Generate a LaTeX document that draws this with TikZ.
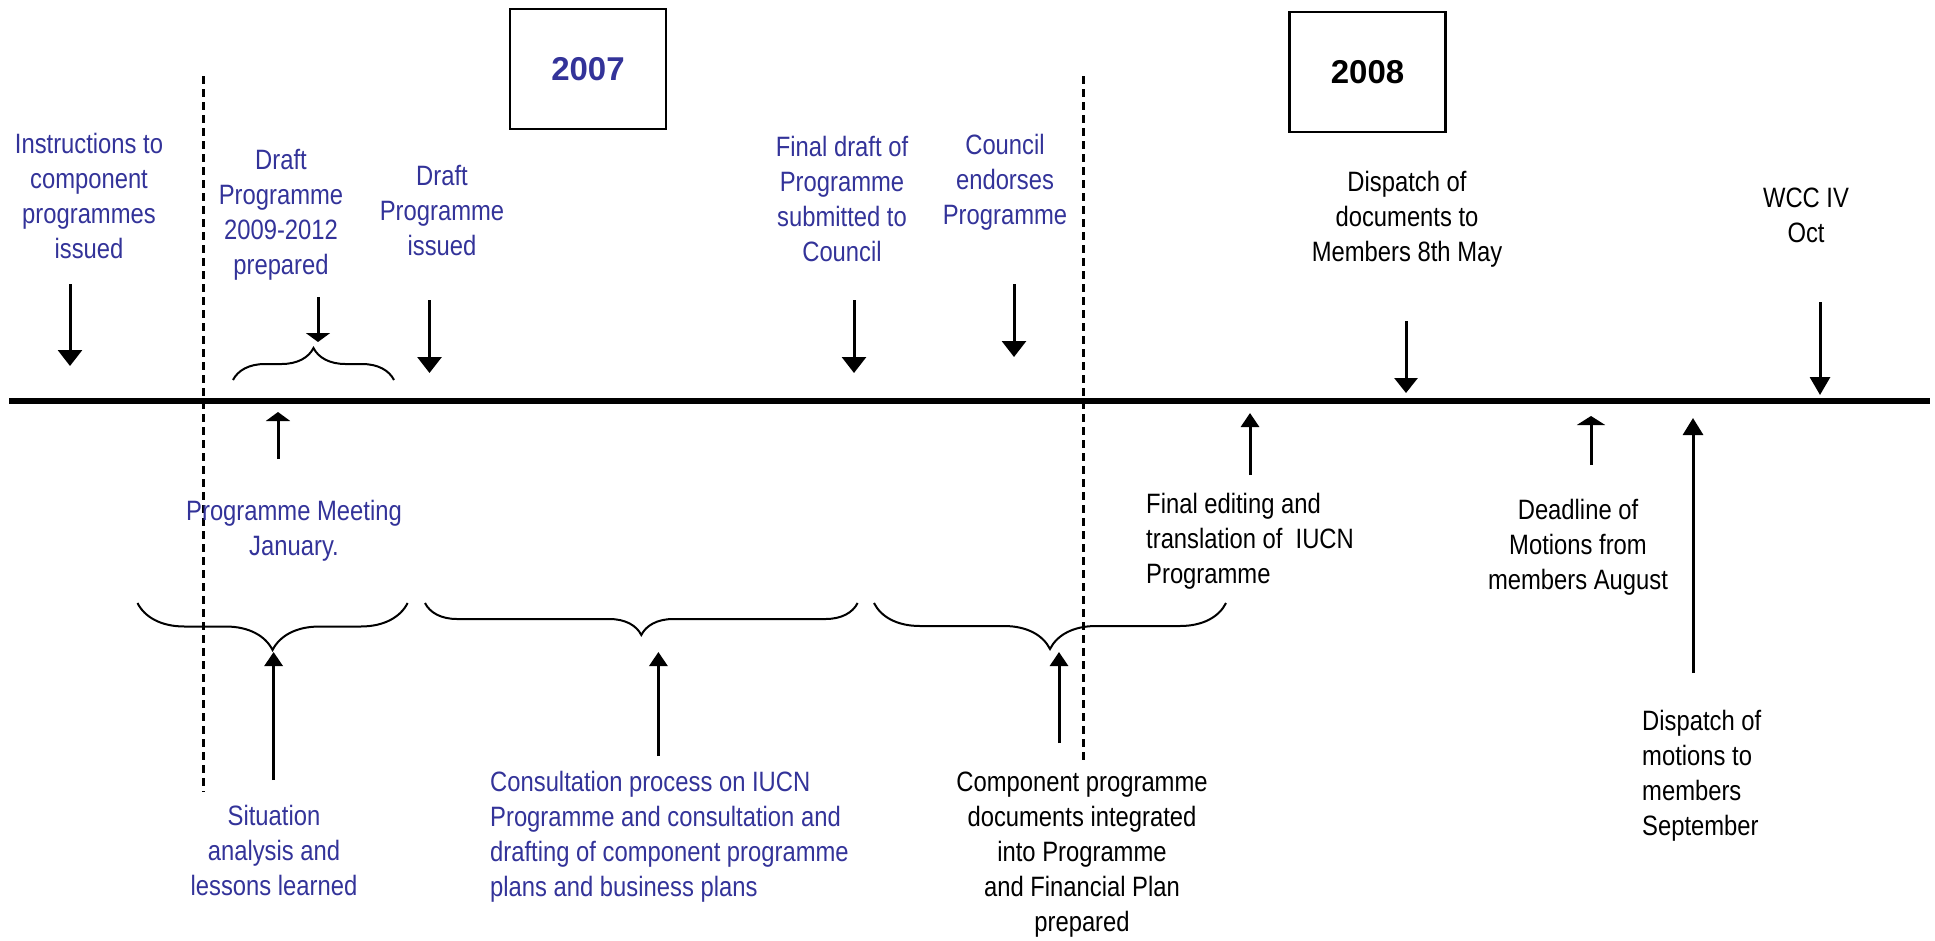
\documentclass[tikz,border=0pt]{standalone}
\usepackage{fontspec}
\setmainfont{Liberation Sans}
\newfontfamily\narrowfont[FakeStretch=0.85]{Liberation Sans}
\usetikzlibrary{arrows.meta,decorations.pathreplacing}
\definecolor{iucnblue}{RGB}{51,51,153}
\begin{document}
\begin{tikzpicture}[x=1pt,y=-1pt,
  lbl/.style={font=\narrowfont\fontsize{28}{35}\selectfont, inner sep=0pt, align=center},
  lblblue/.style={lbl, text=iucnblue},
  yearbox/.style={draw, line width=2.5pt, minimum width=156pt, minimum height=120pt, inner sep=0pt,
    font=\bfseries\fontsize{33}{38}\selectfont},
  arr/.style={line width=3pt, -{Triangle[width=24pt,length=16pt]}},
  arrflat/.style={line width=3pt, -{Triangle[width=24pt,length=9pt]}},
  arrsmall/.style={line width=3pt, -{Triangle[width=18pt,length=14pt]}},
  brc/.style={decorate, line width=2pt},
  sep/.style={line width=3pt, dash pattern=on 8pt off 5pt},
  tline/.style={line width=6pt}
]
\useasboundingbox (0,0) rectangle (1935,940);

% timeline
\coordinate (tl0) at (9,401);
\coordinate (tl1) at (1930,401);
\draw[tline] (tl0) -- (tl1);

% year separators
\coordinate (d1t) at (203,76);
\coordinate (d1b) at (203,792);
\coordinate (d2t) at (1083,76);
\coordinate (d2b) at (1083,760);
\draw[sep] (d1t) -- (d1b);
\draw[sep] (d2t) -- (d2b);

% year boxes
\node[yearbox, text=iucnblue] (y2007) at (588,69) {2007};
\node[yearbox] (y2008) at (1367.5,72) {2008};

% top labels
\node[lblblue] (instr) at (89,196) {Instructions to\\component\\programmes\\issued};
\node[lblblue] (draftprep) at (281,215) {Draft\\Programme\\2009-2012\\prepared};
\node[lblblue] (draftiss) at (442,211) {Draft\\Programme\\issued};
\node[lblblue] (finaldraft) at (842,199) {Final draft of\\Programme\\submitted to\\Council};
\node[lblblue] (council) at (1005,182) {Council\\endorses\\Programme};
\node[lbl] (dispdocs) at (1407,219) {Dispatch of\\documents to\\Members 8th May};
\node[lbl] (wcc) at (1806,215) {WCC IV\\Oct};

% top arrows
\coordinate (a1s) at (70,284);   \coordinate (a1e) at (70,366);
\coordinate (a2s) at (318,297);  \coordinate (a2e) at (318,342);
\coordinate (a3s) at (429.5,300);\coordinate (a3e) at (429.5,373);
\coordinate (a4s) at (854,300);  \coordinate (a4e) at (854,373);
\coordinate (a5s) at (1014,284); \coordinate (a5e) at (1014,357);
\coordinate (a6s) at (1406,321); \coordinate (a6e) at (1406,393);
\coordinate (a7s) at (1820,302); \coordinate (a7e) at (1820,395);
\draw[arr] (a1s) -- (a1e);
\draw[arrflat] (a2s) -- (a2e);
\draw[arr] (a3s) -- (a3e);
\draw[arr] (a4s) -- (a4e);
\draw[arr] (a5s) -- (a5e);
\draw[arr, -{Triangle[width=23pt,length=15pt]}] (a6s) -- (a6e);
\draw[arr, -{Triangle[width=20pt,length=18pt]}] (a7s) -- (a7e);

% top brace
\coordinate (tb0) at (233,380);
\coordinate (tb1) at (394,380);
\draw[brc, decoration={brace, amplitude=32pt}] (tb0) -- (tb1);

% bottom labels
\node[lblblue] (progmeet) at (294,531) {Programme Meeting\\January.};
\node[lblblue] (situation) at (274,850) {Situation\\analysis and\\lessons learned};
\node[lblblue, align=left, anchor=west] (consult) at (490,837) {Consultation process on IUCN\\Programme and consultation and\\drafting of component programme\\plans and business plans};
\node[lbl] (component) at (1082,855) {Component programme\\documents integrated\\into Programme\\and Financial Plan\\prepared};
\node[lbl, align=left, anchor=west] (finaledit) at (1146,541) {Final editing and\\translation of~~IUCN\\Programme};
\node[lbl] (deadline) at (1578,547) {Deadline of\\Motions from\\members August};
\node[lbl, align=left, anchor=west] (dispmot) at (1642,776) {Dispatch of\\motions to\\members\\September};

% bottom braces
\coordinate (b1a) at (137.5,603); \coordinate (b1b) at (407.6,603);
\coordinate (b2a) at (425,603);   \coordinate (b2b) at (857.6,603);
\coordinate (b3a) at (874,603);   \coordinate (b3b) at (1226,603);
\draw[brc, decoration={brace, amplitude=47pt}] (b1b) -- (b1a);
\draw[brc, decoration={brace, amplitude=32pt}] (b2b) -- (b2a);
\draw[brc, decoration={brace, amplitude=46pt}] (b3b) -- (b3a);

% bottom arrows
\coordinate (u1s) at (278,459);    \coordinate (u1e) at (278,412);
\coordinate (u2s) at (273.6,780);  \coordinate (u2e) at (273.6,652);
\coordinate (u3s) at (658.4,756);  \coordinate (u3e) at (658.4,652);
\coordinate (u4s) at (1059,743);   \coordinate (u4e) at (1059,652);
\coordinate (u5s) at (1250,475);   \coordinate (u5e) at (1250,413);
\coordinate (u6s) at (1591,465);   \coordinate (u6e) at (1591,416);
\coordinate (u7s) at (1693,673);   \coordinate (u7e) at (1693,418);
\draw[arrflat] (u1s) -- (u1e);
\draw[arrsmall] (u2s) -- (u2e);
\draw[arrsmall] (u3s) -- (u3e);
\draw[arrsmall] (u4s) -- (u4e);
\draw[arrsmall] (u5s) -- (u5e);
\draw[arrflat, -{Triangle[width=28pt,length=9pt]}] (u6s) -- (u6e);
\draw[arr, -{Triangle[width=20pt,length=17pt]}] (u7s) -- (u7e);
\end{tikzpicture}
\end{document}
